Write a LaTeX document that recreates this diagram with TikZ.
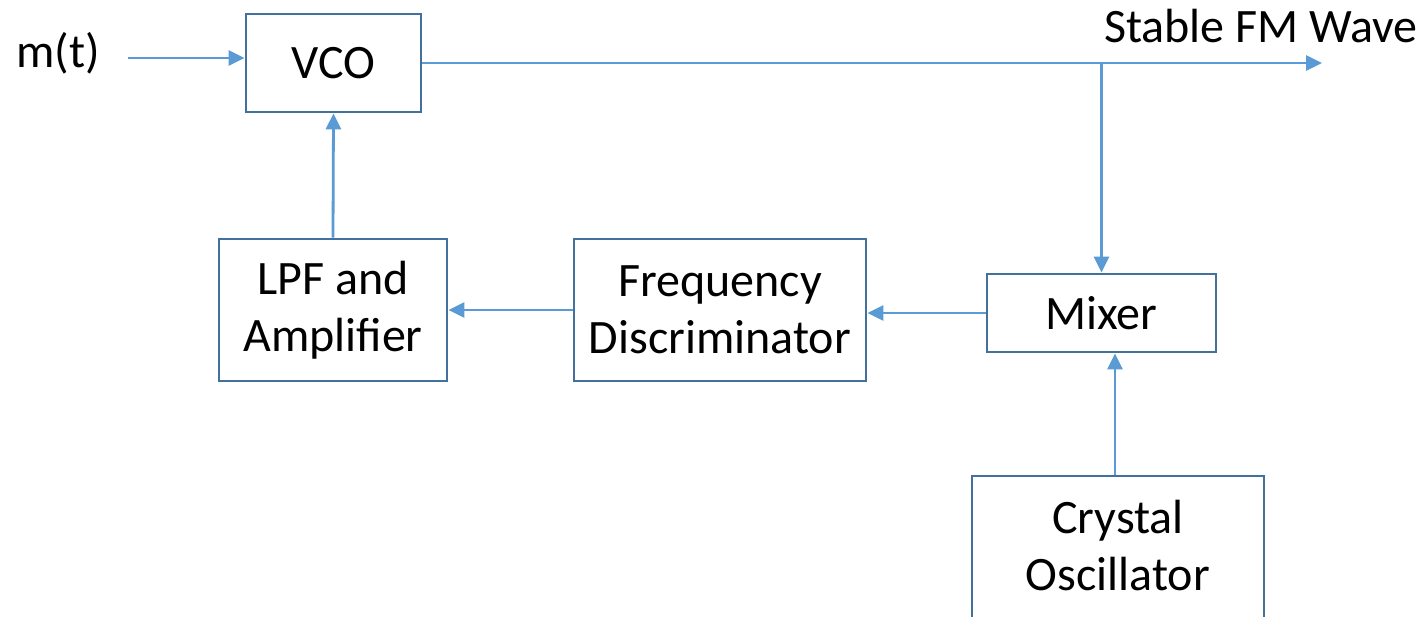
\documentclass[tikz,border=0pt]{standalone}
\usepackage{fontspec}
\setmainfont{Carlito}
\usetikzlibrary{arrows.meta}
\definecolor{boxc}{HTML}{41719C}
\definecolor{arrc}{HTML}{5B9BD5}
\begin{document}
\begin{tikzpicture}[x=1pt,y=-1pt,
  blk/.style={draw=boxc,line width=2.8pt,fill=white,inner sep=0pt,align=center,
    font=\fontsize{48}{57}\selectfont},
  arr/.style={draw=arrc,line width=2.8pt,-{Triangle[length=16pt,width=15pt]}},
  lbl/.style={font=\fontsize{48}{57}\selectfont,inner sep=0pt}]
\useasboundingbox (0,0) rectangle (1428,617);
\clip (0,0) rectangle (1428,617);
\node[blk,minimum width=175pt,minimum height=98pt] (vco) at (333.5,63) {VCO};
\node[blk,minimum width=228pt,minimum height=142pt] (lpf) at (333,310) {LPF and\\Amplifier};
\node[blk,minimum width=292pt,minimum height=142pt] (fd) at (720,310) {Frequency\\Discriminator};
\node[blk,minimum width=229pt,minimum height=78pt] (mix) at (1101.5,313) {Mixer};
\node[blk,minimum width=292pt,minimum height=160pt] (xo) at (1118,556) {};
\node[lbl,align=center] (xot) at (1118,546) {Crystal\\Oscillator};
\node[lbl,anchor=base] (m) at (58,68) {m(t)};
\node[lbl,anchor=base] (sfm) at (1261,43) {Stable FM Wave};
\coordinate (min) at (128,58);
\coordinate (out) at (1322,63);
\coordinate (br) at (1101.5,63);
\draw[arr] (min) -- (min -| vco.west);
\draw[arr] (vco.east) -- (out);
\draw[arr] (br) -- (mix.north);
\draw[arr] (lpf.north) -- (vco.south);
\draw[arr] (fd.west) -- (lpf.east);
\draw[arr] (mix.west) -- (mix.west -| fd.east);
\draw[arr] ([xshift=-3pt]xo.north) -- ([xshift=-3pt]xo.north |- mix.south);
\end{tikzpicture}
\end{document}
